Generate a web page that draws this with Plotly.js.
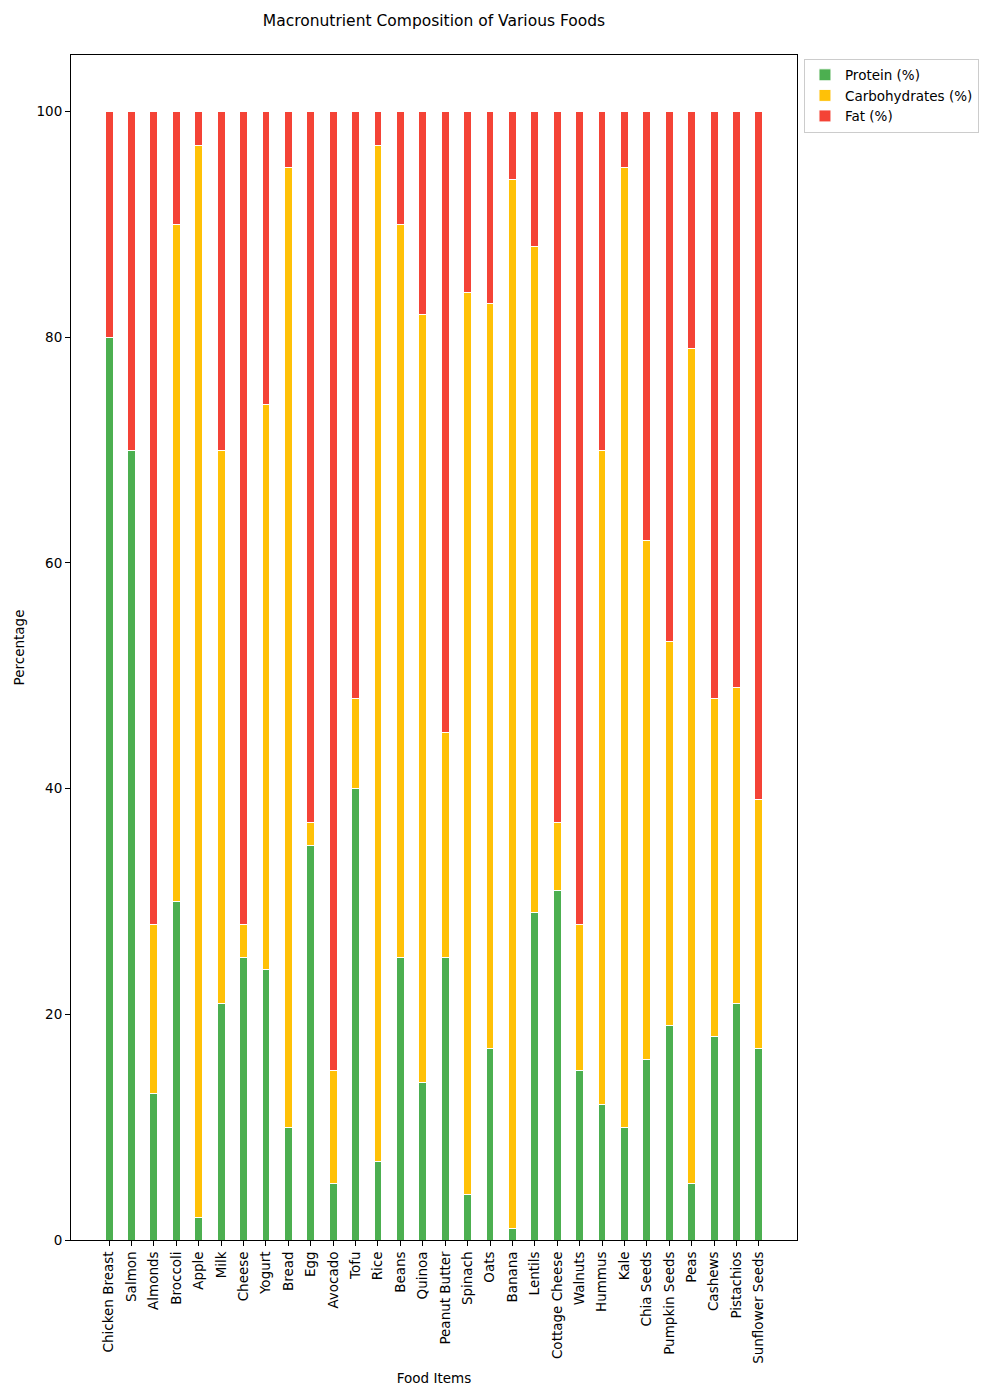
<!DOCTYPE html>
<html>
<head>
<meta charset="utf-8">
<script src="https://cdn.plot.ly/plotly-3.0.1.min.js"></script>
<style>body{margin:0;background:#fff;} #chart{width:1000px;height:1400px;}</style>
</head>
<body>
<div id="chart"></div>
<script>
const foods = ["Chicken Breast","Salmon","Almonds","Broccoli","Apple","Milk","Cheese","Yogurt","Bread","Egg","Avocado","Tofu","Rice","Beans","Quinoa","Peanut Butter","Spinach","Oats","Banana","Lentils","Cottage Cheese","Walnuts","Hummus","Kale","Chia Seeds","Pumpkin Seeds","Peas","Cashews","Pistachios","Sunflower Seeds"];
const protein = [80,70,13,30,2,21,25,24,10,35,5,40,7,25,14,25,4,17,1,29,31,15,12,10,16,19,5,18,21,17];
const carbs   = [0,0,15,60,95,49,3,50,85,2,10,8,90,65,68,20,80,66,93,59,6,13,58,85,46,34,74,30,28,22];
const fat     = [20,30,72,10,3,30,72,26,5,63,85,52,3,10,18,55,16,17,6,12,63,72,30,5,38,47,21,52,51,61];

const font = {family: "DejaVu Sans, sans-serif", size: 13.5, color: "#000"};
const mk = (name, y, color) => ({
  type: "bar", name: name, x: foods, y: y, width: 0.35,
  marker: {color: color, line: {color: "#fff", width: 1}}
});
const data = [
  mk("Protein (%)", protein, "#4CAF50"),
  mk("Carbohydrates (%)", carbs, "#FFC107"),
  mk("Fat (%)", fat, "#F44336")
];
const layout = {
  width: 1000, height: 1400,
  barmode: "stack",
  paper_bgcolor: "#fff", plot_bgcolor: "#fff",
  margin: {l: 71, r: 203, t: 55, b: 160},
  font: font,
  title: {text: "Macronutrient Composition of Various Foods", font: {family: font.family, size: 15.5, color: "#000"}, x: 0.434, xanchor: "center", y: 0.985, yanchor: "middle"},
  xaxis: {
    range: [-1.7, 30.7], tickangle: -90, showgrid: false, zeroline: false,
    showline: true, mirror: true, linecolor: "#000", linewidth: 1,
    ticks: "outside", ticklen: 5, tickcolor: "#000",
    tickfont: font,
    title: {text: "Food Items", font: font, standoff: 10}
  },
  yaxis: {
    range: [0, 105], tickvals: [0,20,40,60,80,100], showgrid: false, zeroline: false,
    showline: true, mirror: true, linecolor: "#000", linewidth: 1,
    ticks: "outside", ticklen: 5, tickcolor: "#000",
    tickfont: font,
    title: {text: "Percentage", font: font, standoff: 8}
  },
  legend: {
    x: 1.0096, y: 0.997, xanchor: "left", yanchor: "top",
    bordercolor: "#ccc", borderwidth: 1, bgcolor: "#fff",
    font: {family: font.family, size: 13.5, color: "#000"},
    traceorder: "normal"
  },
  showlegend: true
};
Plotly.newPlot("chart", data, layout, {displayModeBar: false});
</script>
</body>
</html>
